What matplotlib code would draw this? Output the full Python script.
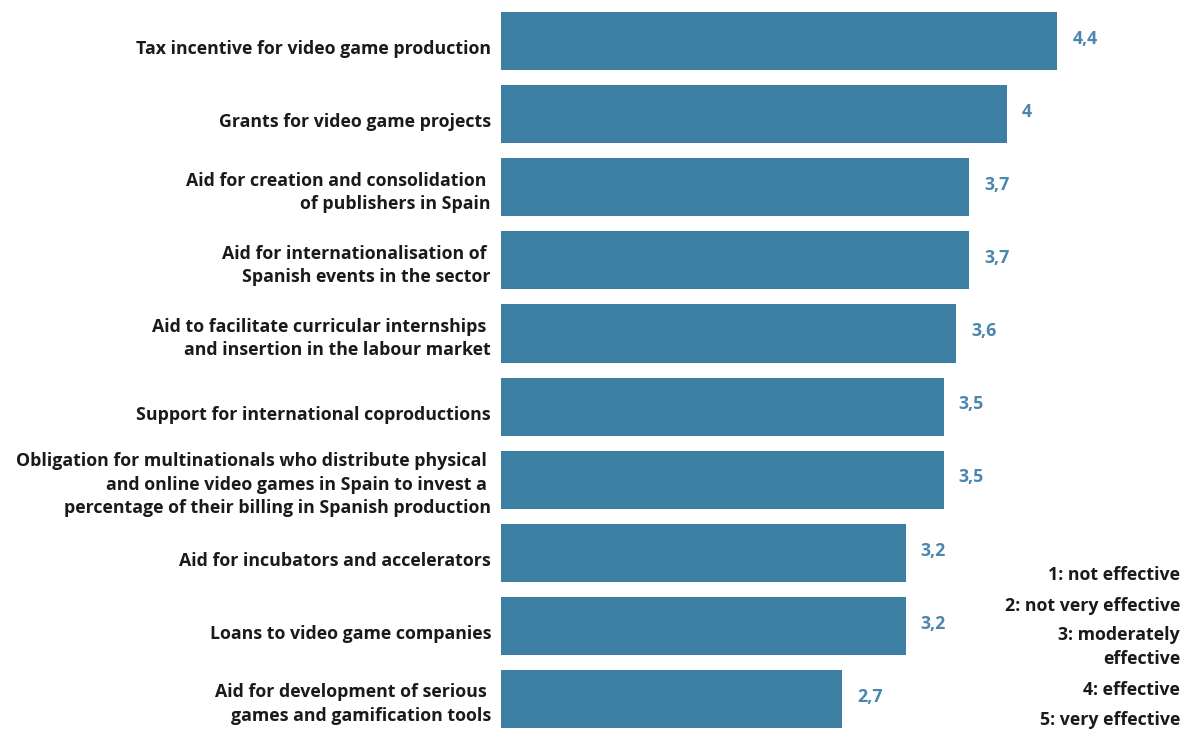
import matplotlib
matplotlib.use("Agg")
import matplotlib.pyplot as plt
from matplotlib.transforms import offset_copy

# ---------------- data ---------------- #
measures = [
    "Tax incentive for video game production",
    "Grants for video game projects",
    "Aid for creation and consolidation \nof publishers in Spain",
    "Aid for internationalisation of \nSpanish events in the sector",
    "Aid to facilitate curricular internships \nand insertion in the labour market",
    "Support for international coproductions",
    "Obligation for multinationals who distribute physical \nand online video games in Spain to invest a \npercentage of their billing in Spanish production",
    "Aid for incubators and accelerators",
    "Loans to video game companies",
    "Aid for development of serious \ngames and gamification tools",
]
scores = [4.4, 4.0, 3.7, 3.7, 3.6, 3.5, 3.5, 3.2, 3.2, 2.7]
scale_notes = [
    "1: not effective",
    "2: not very effective",
    "3: moderately\neffective",
    "4: effective",
    "5: very effective",
]

bar_color = "#3d7fa3"
value_color = "#4a86ad"
text_color = "#1a1a1a"
plt.rcParams["font.family"] = ["Open Sans", "DejaVu Sans"]

# ---------------- figure ---------------- #
W, H = 1188, 729
fig = plt.figure(figsize=(W / 100, H / 100), dpi=100)
x0 = 501 / W
ax = fig.add_axes([x0, 0, 1 - x0, 1])

pos = list(range(len(scores)))
ax.barh(pos, scores, height=0.795, color=bar_color)
ax.set_ylim(9.411, -0.562)
ax.set_xlim(0, (W - 501) / 126.45)

for p, v in zip(pos, scores):
    txt = ("%g" % v).replace(".", ",")
    ax.text(v + 0.12, p - 0.03, txt, ha="left", va="center",
            fontsize=12.8, fontweight="bold", color=value_color)

# category labels, right aligned just left of the bars
ytrans = ax.get_yaxis_transform()
for p, lab in zip(pos, measures):
    drop = -8 if "\n" not in lab else -5
    tr = offset_copy(ytrans, fig=fig, x=-10, y=drop, units="dots")
    ax.text(0, p, lab, transform=tr, ha="right", va="center",
            fontsize=12.8, fontweight="bold", color=text_color,
            linespacing=1.38)

ax.set_xticks([])
ax.set_yticks([])
for s in ax.spines.values():
    s.set_visible(False)

# legend of the rating scale
note_y = [575, 606, 647, 690, 720]
for t, y in zip(scale_notes, note_y):
    fig.text(1180 / W, 1 - y / H, t, ha="right", va="center",
             fontsize=12.8, fontweight="bold", color=text_color,
             linespacing=1.38)

fig.savefig("out.png", dpi=100)
